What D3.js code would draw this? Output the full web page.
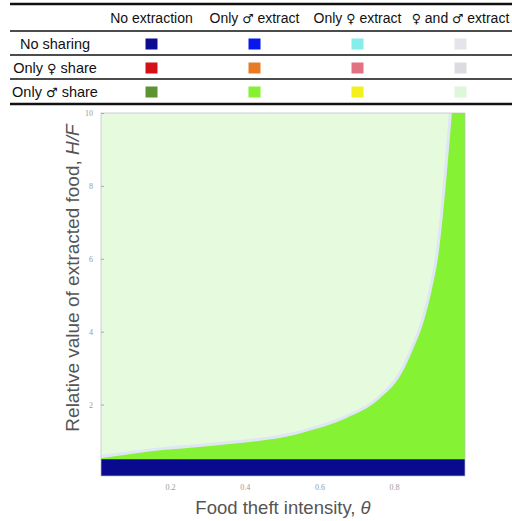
<!DOCTYPE html>
<html>
<head>
<meta charset="utf-8">
<script src="https://cdn.jsdelivr.net/npm/d3@7"></script>
<style>
body{margin:0;background:#fff;}
svg{display:block;font-family:"Liberation Sans",Arial,sans-serif;}
.sym{font-family:"DejaVu Sans",sans-serif;}
</style>
</head>
<body>
<script>
// legend table
var colLabels=["No extraction","Only \u2642 extract","Only \u2640 extract","\u2640 and \u2642 extract"]
var rowLabels=["No sharing","Only \u2640 share","Only \u2642 share"]
var swatchColors=[
  ["#0c0c92","#0a16ee","#86eeea","#e4e4ea"],
  ["#d41018","#e87a24","#e27282","#dcdce0"],
  ["#5c9432","#86f032","#f2f01e","#dcf8d6"]
]

// region plot data
var thetaDomain=[0.015,0.99]
var hDomain=[0.04,10]
var navyTop=0.5
// boundary between "only male extract" (green) and the pale region
var boundTheta=[0.015,0.10,0.18,0.27,0.36,0.45,0.53,0.58,0.67,0.76,0.82,0.85,0.88,0.90,0.92,0.94,0.955]
var boundH=[0.53,0.65,0.75,0.83,0.92,1.02,1.16,1.30,1.62,2.15,2.85,3.5,4.3,5.1,6.2,8.2,10]
var xTicks=[0.2,0.4,0.6,0.8]
var yTicks=[2,4,6,8,10]

var svg=d3.select("body").append("svg").attr("width",512).attr("height",521)

// split a label so the sex symbols use a font that has them at full size
function writeLabel(sel,str){
  str.split(/([\u2640\u2642])/).forEach(function(part){
    if(!part) return
    var t=sel.append("tspan").text(part)
    if(part=="\u2640"||part=="\u2642") t.attr("class","sym").attr("font-size","0.9em")
  })
}

// ---- table ----
var colX=d3.scaleBand().domain(colLabels).range([100,512])
var rowY=d3.scaleBand().domain(rowLabels).range([32,104])

var lines=[{y:4,w:2.5},{y:31,w:1.6},{y:55,w:1.6},{y:79,w:1.6},{y:104,w:2.5}]
svg.selectAll("line.tbl").data(lines).enter().append("line")
  .attr("x1",10).attr("x2",512)
  .attr("y1",function(d){return d.y}).attr("y2",function(d){return d.y})
  .attr("stroke","#111").attr("stroke-width",function(d){return d.w})

svg.selectAll("text.col").data(colLabels).enter().append("text")
  .attr("x",function(d){return colX(d)+colX.bandwidth()/2})
  .attr("y",23).attr("text-anchor","middle")
  .attr("font-size",14).attr("fill","#111")
  .each(function(d){writeLabel(d3.select(this),d)})

svg.selectAll("text.row").data(rowLabels).enter().append("text")
  .attr("x",55).attr("y",function(d){return rowY(d)+rowY.bandwidth()/2+5})
  .attr("text-anchor","middle").attr("font-size",14.5).attr("fill","#111")
  .each(function(d){writeLabel(d3.select(this),d)})

rowLabels.forEach(function(r,ri){
  svg.selectAll("rect.sw"+ri).data(colLabels).enter().append("rect")
    .attr("x",function(d){return colX(d)+colX.bandwidth()/2-6})
    .attr("y",rowY(r)+rowY.bandwidth()/2-5.5)
    .attr("width",12).attr("height",11)
    .attr("fill",function(d,ci){return swatchColors[ri][ci]})
})

// ---- region plot ----
var x=d3.scaleLinear().domain(thetaDomain).range([101,465])
var y=d3.scaleLinear().domain(hDomain).range([476,113])

var bound=boundTheta.map(function(t,i){return [t,boundH[i]]})
var boundLine=d3.line().x(function(p){return x(p[0])}).y(function(p){return y(p[1])}).curve(d3.curveMonotoneX)

svg.append("clipPath").attr("id","plotclip").append("rect")
  .attr("x",x(thetaDomain[0])).attr("y",y(hDomain[1]))
  .attr("width",x(thetaDomain[1])-x(thetaDomain[0]))
  .attr("height",y(hDomain[0])-y(hDomain[1]))

var plot=svg.append("g").attr("clip-path","url(#plotclip)")

plot.append("rect")
  .attr("x",x(thetaDomain[0])).attr("y",y(hDomain[1]))
  .attr("width",x(thetaDomain[1])-x(thetaDomain[0]))
  .attr("height",y(hDomain[0])-y(hDomain[1]))
  .attr("fill","#e6fbde")

// thin pale band along boundary
plot.append("path")
  .datum(bound)
  .attr("d",boundLine)
  .attr("fill","none").attr("stroke","#dfe6f6").attr("stroke-width",6)

plot.append("path")
  .datum(bound)
  .attr("d",function(d){
    return boundLine(d)+"L"+x(thetaDomain[1])+","+y(hDomain[1])+"L"+x(thetaDomain[1])+","+y(navyTop)+"L"+x(thetaDomain[0])+","+y(navyTop)+"Z"
  })
  .attr("fill","#85f233")

plot.append("rect")
  .attr("x",x(thetaDomain[0])).attr("y",y(navyTop))
  .attr("width",x(thetaDomain[1])-x(thetaDomain[0]))
  .attr("height",y(hDomain[0])-y(navyTop))
  .attr("fill","#0a0a8e")

// frame
svg.append("rect")
  .attr("x",x(thetaDomain[0])).attr("y",y(hDomain[1]))
  .attr("width",x(thetaDomain[1])-x(thetaDomain[0]))
  .attr("height",y(hDomain[0])-y(hDomain[1]))
  .attr("fill","none").attr("stroke","#b8bec6").attr("stroke-width",0.7)

// axes
var xa=svg.append("g").attr("transform","translate(0,"+y(hDomain[0])+")")
  .call(d3.axisBottom(x).tickValues(xTicks).tickSize(0).tickPadding(8).tickFormat(d3.format(".1f")))
xa.select(".domain").remove()
xa.selectAll("text").attr("font-size",8).attr("fill","#999").attr("font-family","Liberation Serif,serif")

var ya=svg.append("g").attr("transform","translate("+x(thetaDomain[0])+",0)")
  .call(d3.axisLeft(y).tickValues(yTicks).tickSizeInner(-3).tickSizeOuter(0).tickPadding(8).tickFormat(d3.format("d")))
ya.select(".domain").remove()
ya.selectAll("line").attr("stroke","#aaa")
ya.selectAll("text").attr("font-size",8).attr("fill","#999").attr("font-family","Liberation Serif,serif")

// axis titles
var xt=svg.append("text").attr("x",283).attr("y",514).attr("text-anchor","middle")
  .attr("font-size",18.5).attr("fill","#555")
xt.append("tspan").text("Food theft intensity, ")
xt.append("tspan").attr("font-style","italic").text("\u03b8")

var yt=svg.append("text").attr("transform","translate(79,278) rotate(-90)")
  .attr("text-anchor","middle").attr("font-size",19).attr("fill","#555")
yt.append("tspan").text("Relative value of extracted food, ")
yt.append("tspan").attr("font-style","italic").text("H/F")
</script>
</body>
</html>
